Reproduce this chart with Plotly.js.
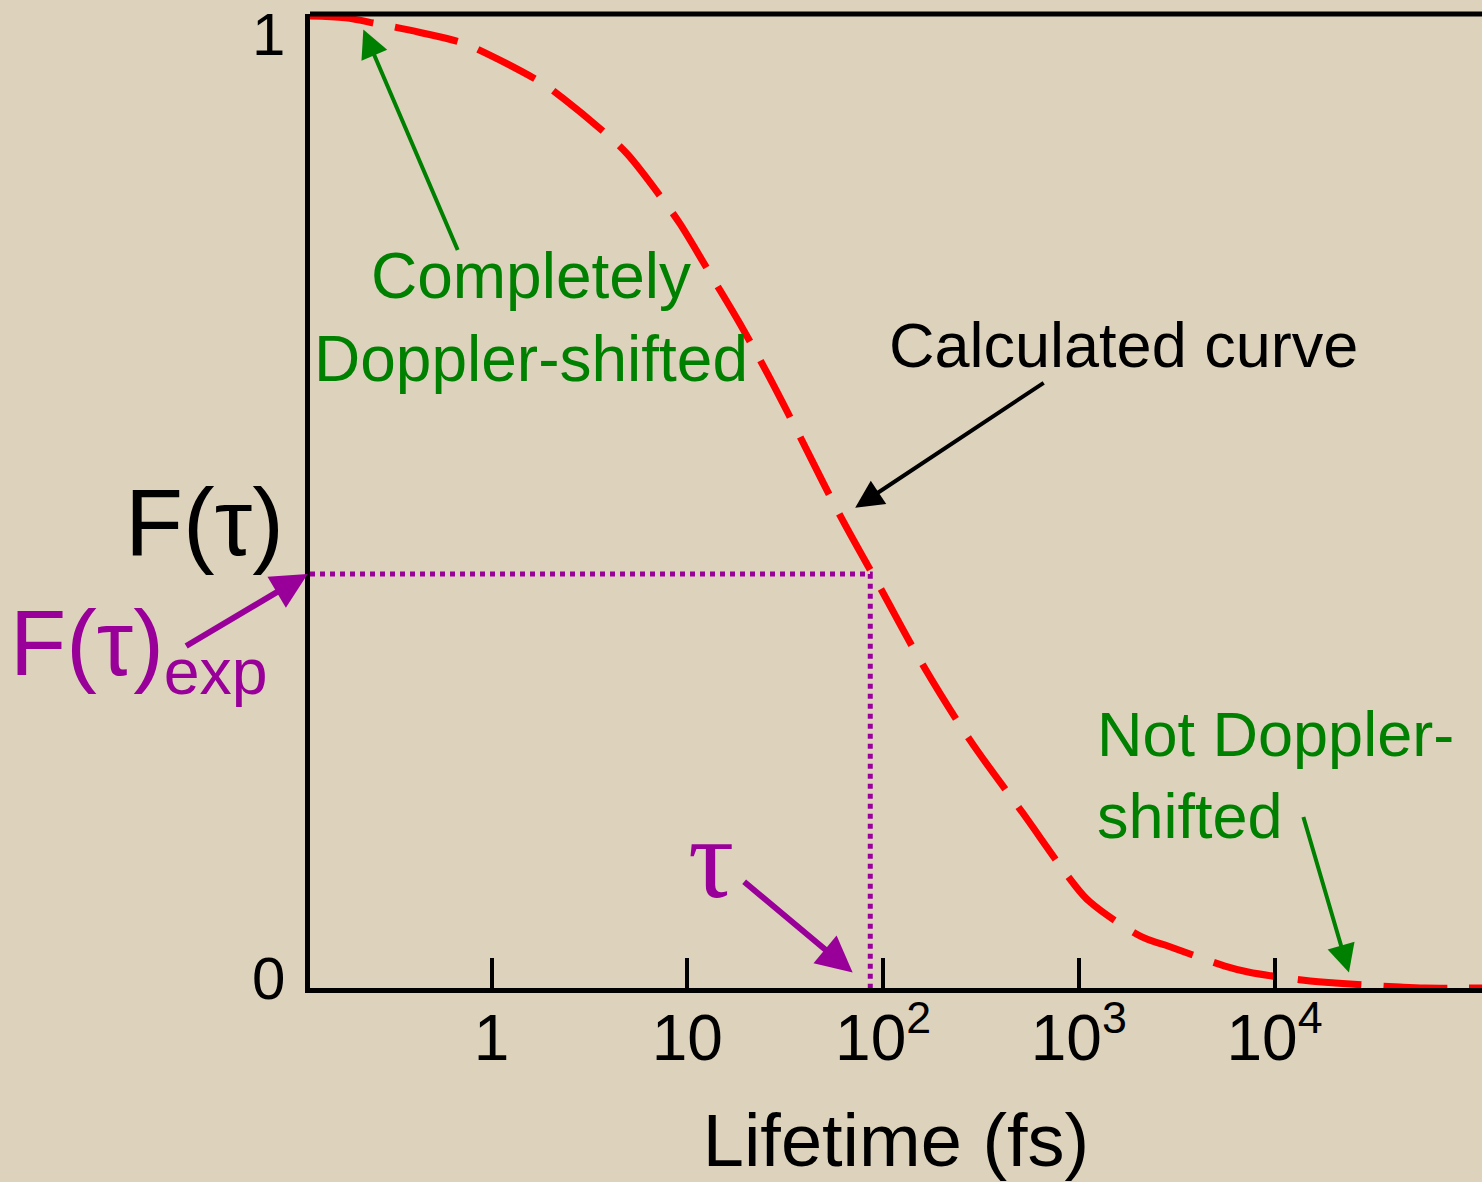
<!DOCTYPE html>
<html>
<head>
<meta charset="utf-8">
<script src="https://cdn.plot.ly/plotly-3.0.1.min.js"></script>
<style>
html,body{margin:0;padding:0;background:#ddd2bc;}
#chart{width:1482px;height:1182px;}
</style>
</head>
<body>
<div id="chart"></div>
<script>
// Calculated curve: lifetime (fs) vs Doppler-shifted fraction F(tau)
const lifetime = [0.118, 0.179, 0.26, 0.431, 0.715, 0.927, 1.81, 2.29, 4.03, 4.98, 7.88, 9.18, 13.5, 18.6, 25.5, 36.8, 58.9, 96.5, 160, 278, 513, 935, 1140, 2100, 2760, 5580, 7330, 15200, 20400, 43800, 58700, 115000];
const fraction = [1.0, 0.998, 0.992, 0.983, 0.972, 0.962, 0.931, 0.916, 0.875, 0.857, 0.805, 0.786, 0.730, 0.683, 0.633, 0.571, 0.490, 0.412, 0.332, 0.255, 0.181, 0.108, 0.0885, 0.0525, 0.0442, 0.0226, 0.0165, 0.0072, 0.0051, 0.001, 0.0, 0.0];

// Experimental point
const tauExp = 86;
const fExp = 0.426;

// Axis ticks
const xTickVals = [1, 10, 100, 1000, 10000];
const xTickText = ['1', '10', '10<sup>2</sup>', '10<sup>3</sup>', '10<sup>4</sup>'];
const yTickVals = [0, 1];
const yTickText = ['0', '1'];

const SANS = 'Liberation Sans, Arial, sans-serif';
const SERIF = 'Liberation Serif, serif';
const GREEN = '#008000';
const PURPLE = '#990099';
const TAU = 'τ';

const traces = [
  {
    x: lifetime, y: fraction, type: 'scatter', mode: 'lines',
    line: {color: '#ff0000', width: 7, dash: '64px,22px', shape: 'spline', smoothing: 1.0},
    hoverinfo: 'skip', cliponaxis: false
  },
  {
    x: [lifetime[0], tauExp, tauExp], y: [fExp, fExp, 0], type: 'scatter', mode: 'lines',
    line: {color: PURPLE, width: 5, dash: '5px,5px'}, hoverinfo: 'skip'
  }
];

const px = v => (v - 310) / 1172;
const py = v => (988 - v) / 974;

// y tick labels drawn as annotations (offset like the original slide)
const yLabelShift = [10, -19];
const yLabelAnns = yTickVals.map((v, i) => ({
  xref: 'paper', yref: 'y', x: px(287), y: v, yshift: yLabelShift[i],
  xanchor: 'right', yanchor: 'middle', text: yTickText[i], showarrow: false,
  font: {family: SANS, size: 60, color: '#000'}
}));

const layout = {
  width: 1482, height: 1182,
  margin: {l: 310, r: 0, t: 14, b: 194},
  paper_bgcolor: '#ddd2bc', plot_bgcolor: 'rgba(0,0,0,0)',
  showlegend: false,
  font: {family: SANS, color: '#000'},
  xaxis: {
    type: 'log', range: [Math.log10(lifetime[0]), 5.06],
    showgrid: false, zeroline: false,
    showline: true, linecolor: '#000', linewidth: 5,
    ticks: 'inside', ticklen: 30, tickwidth: 4, tickcolor: '#000',
    tickvals: xTickVals, ticktext: xTickText,
    tickfont: {family: SANS, size: 64, color: '#000'},
    ticklabelstandoff: -10,
    title: {text: 'Lifetime (fs)', font: {family: SANS, size: 74, color: '#000'}, standoff: 48}
  },
  yaxis: {
    range: [0, 1.002], showgrid: false, zeroline: false,
    showline: true, linecolor: '#000', linewidth: 5,
    ticks: '', tickvals: yTickVals, showticklabels: false
  },
  shapes: [
    {type: 'line', xref: 'paper', yref: 'paper', x0: 0, x1: 1, y0: 1, y1: 1,
     line: {color: '#000', width: 5}}
  ],
  annotations: yLabelAnns.concat([
    // text labels
    {xref: 'paper', yref: 'paper', x: px(531), y: py(318), xanchor: 'center', yanchor: 'middle',
     text: 'Completely<br>Doppler-shifted', showarrow: false, font: {size: 64, color: GREEN}},
    {xref: 'paper', yref: 'paper', x: px(1123), y: py(345), xanchor: 'center', yanchor: 'middle',
     text: 'Calculated curve', showarrow: false, font: {size: 63, color: '#000'}},
    {xref: 'paper', yref: 'paper', x: px(1095), y: py(775), xanchor: 'left', yanchor: 'middle', align: 'left',
     text: 'Not Doppler-<br>shifted', showarrow: false, font: {size: 63, color: GREEN}},
    {xref: 'paper', yref: 'paper', x: px(204), y: py(522), xanchor: 'center', yanchor: 'middle',
     text: 'F(' + TAU + ')', showarrow: false, font: {size: 95, color: '#000'}},
    {xref: 'paper', yref: 'paper', x: px(8), y: py(650), xanchor: 'left', yanchor: 'middle',
     text: 'F(' + TAU + ')<sub>exp</sub>', showarrow: false, font: {size: 92, color: PURPLE}},
    {xref: 'paper', yref: 'paper', x: px(711), y: py(858), xanchor: 'center', yanchor: 'middle',
     text: TAU, showarrow: false, font: {family: SERIF, size: 115, color: PURPLE}},
    // arrows
    {xref: 'x', yref: 'y', x: Math.log10(0.221), y: 0.986, ax: 95, ay: 222, text: '',
     showarrow: true, arrowhead: 2, arrowsize: 1.4, arrowwidth: 4, arrowcolor: GREEN},
    {xref: 'x', yref: 'y', x: Math.log10(72), y: 0.494, ax: 190, ay: -126, text: '',
     showarrow: true, arrowhead: 2, arrowsize: 1.4, arrowwidth: 4, arrowcolor: '#000'},
    {xref: 'paper', yref: 'y', x: -0.002, y: fExp, ax: -123, ay: 73, text: '',
     showarrow: true, arrowhead: 2, arrowsize: 1.2, arrowwidth: 6, arrowcolor: PURPLE},
    {xref: 'x', yref: 'y', x: Math.log10(tauExp) - 0.09, y: 0.016, ax: -110, ay: -92, text: '',
     showarrow: true, arrowhead: 2, arrowsize: 1.2, arrowwidth: 6, arrowcolor: PURPLE},
    {xref: 'x', yref: 'y', x: Math.log10(24000), y: 0.016, ax: -46, ay: -157, text: '',
     showarrow: true, arrowhead: 2, arrowsize: 1.4, arrowwidth: 4, arrowcolor: GREEN}
  ])
};

Plotly.newPlot('chart', traces, layout, {displayModeBar: false, staticPlot: true});
</script>
</body>
</html>
